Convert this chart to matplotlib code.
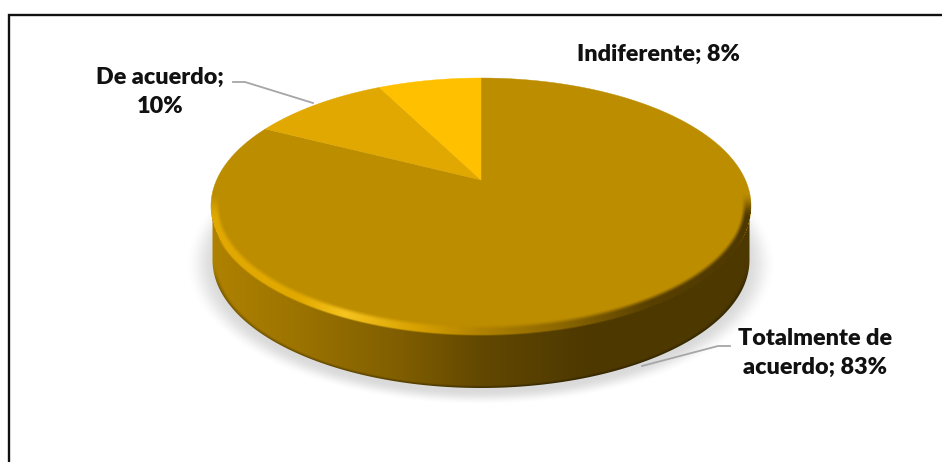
import numpy as np
import matplotlib
matplotlib.use('Agg')
import matplotlib.pyplot as plt
from matplotlib.path import Path
from matplotlib.patches import PathPatch

# chart data
categories = ['Totalmente de\nacuerdo', 'De acuerdo', 'Indiferente']
percent = [82.5, 10.0, 7.5]
slice_colors = ['#BD8D00', '#E0A800', '#FFC000']
label_text = ['Totalmente de\nacuerdo; 83%', 'De acuerdo;\n10%', 'Indiferente; 8%']

W, H = 942, 462

# tilted disc in pixel coordinates
cx, apex_y = 481.0, 180.0
persp = 0.203
scale_x, scale_y = 264.4, 122.7
ell_y, ell_rx, ell_ry = 206.0, 270.0, 128.0
depth = 54.0


def disc_point(theta):
    # theta clockwise from 12 o'clock, with the far edge foreshortened
    u, v = np.sin(theta), np.cos(theta)
    f = 1 + persp * v
    return cx + scale_x * u / f, apex_y - scale_y * v / f


def smooth(t):
    t = np.clip(t, 0, 1)
    return t * t * (3 - 2 * t)


def lerp_rgb(x, stops, colors):
    colors = np.array(colors, dtype=float) / 255
    return np.dstack([np.interp(x, stops, colors[:, i]) for i in range(3)])


fig = plt.figure(figsize=(W / 100, H / 100), dpi=100)
ax = fig.add_axes([0, 0, 1, 1])
ax.set_xlim(0, W)
ax.set_ylim(H, 0)
ax.axis('off')

xx, yy = np.meshgrid(np.arange(W) + 0.5, np.arange(H) + 0.5)
extent = [0, W, H, 0]

# soft shadow under the disc
d_sh = np.sqrt(((xx - cx) / 272) ** 2 + ((yy - (ell_y + depth + 4)) / 130) ** 2)
shadow = np.zeros((H, W, 4))
shadow[..., :3] = 0.6
shadow[..., 3] = 0.36 * smooth((1.085 - d_sh) / 0.11)
ax.imshow(shadow, extent=extent, zorder=1, interpolation='nearest', aspect='auto')

# side wall
t = np.linspace(np.pi / 2, 3 * np.pi / 2, 200)
low_x = cx + (ell_rx - 1.5) * np.sin(t)
low_y = ell_y - ell_ry * np.cos(t)
side_pts = np.vstack([np.c_[low_x, low_y], np.c_[low_x[::-1], low_y[::-1] + depth]])
side_path = Path(np.vstack([side_pts, side_pts[0]]), closed=True)

side = lerp_rgb(xx, [210, 300, 400, 480, 590, 750],
                [(176, 130, 0), (155, 115, 0), (128, 94, 0), (98, 72, 0), (77, 56, 0), (77, 56, 0)])
d_low = np.sqrt(((xx - cx) / ell_rx) ** 2 + ((yy - ell_y - depth) / ell_ry) ** 2)
edge_dark = smooth((d_low - 0.975) / 0.025) * smooth((yy - ell_y - depth) / 30)
side *= (1 - 0.35 * edge_dark)[..., None]
side_im = ax.imshow(side, extent=extent, zorder=2, interpolation='nearest', aspect='auto')
side_im.set_clip_path(PathPatch(side_path, transform=ax.transData))

# slices on top, walking clockwise from the top
fractions = np.array(percent, dtype=float) / sum(percent)
ends = 2 * np.pi * np.cumsum(fractions)
starts = ends - 2 * np.pi * fractions
for a0, a1, col in zip(starts, ends, slice_colors):
    th = np.linspace(a0, a1, 240)
    px, py = disc_point(th)
    verts = np.vstack([[cx, apex_y], np.c_[px, py], [cx, apex_y]])
    ax.add_patch(PathPatch(Path(verts, closed=True), facecolor=col, edgecolor=col, lw=0.3, zorder=3))

# bevelled lip along the near edge
dx, dy = (xx - cx) / ell_rx, (yy - ell_y) / ell_ry
d = np.sqrt(dx ** 2 + dy ** 2)
grad = np.sqrt((dx / ell_rx) ** 2 + (dy / ell_ry) ** 2) / np.maximum(d, 1e-6)
dist = (1 - d) / np.maximum(grad, 1e-6)
lip = np.zeros((H, W, 4))
lip[..., :3] = lerp_rgb(xx, [210, 300, 345, 420, 480, 560, 650, 750],
                        [(224, 168, 0), (226, 170, 0), (246, 196, 30), (214, 160, 0),
                         (176, 130, 0), (140, 103, 0), (88, 64, 0), (77, 56, 0)])
outer = smooth((dist + 2.5) / 2.5) * smooth((yy - ell_y - 25) / 20)
lip_a = smooth((10 - dist) / 6) * np.where(dist >= 0, 1.0, outer)
lip_a = lip_a * smooth((yy - ell_y + 14) / 26)
lip[..., 3] = lip_a
ax.imshow(lip, extent=extent, zorder=4, interpolation='nearest', aspect='auto')

# leader lines
ax.plot([233, 245, 313], [82, 82, 103], color='#A6A6A6', lw=1.3, zorder=5)
ax.plot([642, 718, 730], [366, 346, 346], color='#A6A6A6', lw=1.3, zorder=5)

# labels
label_pos = [(815, 353), (160, 92), (658, 54)]
for txt, (lx, ly) in zip(label_text, label_pos):
    ax.text(lx, ly, txt, ha='center', va='center', family='Lato', weight='heavy',
            fontsize=16.8, color='#111111', linespacing=1.5, zorder=6)

# chart frame, only top and left are in the crop
ax.plot([8.5, 8.5, W], [H, 14.5, 14.5], color='#111111', lw=1.7, zorder=7,
        solid_joinstyle='miter')

ax.set_xlim(0, W)
ax.set_ylim(H, 0)
fig.savefig('out.png', dpi=100, facecolor='white')
